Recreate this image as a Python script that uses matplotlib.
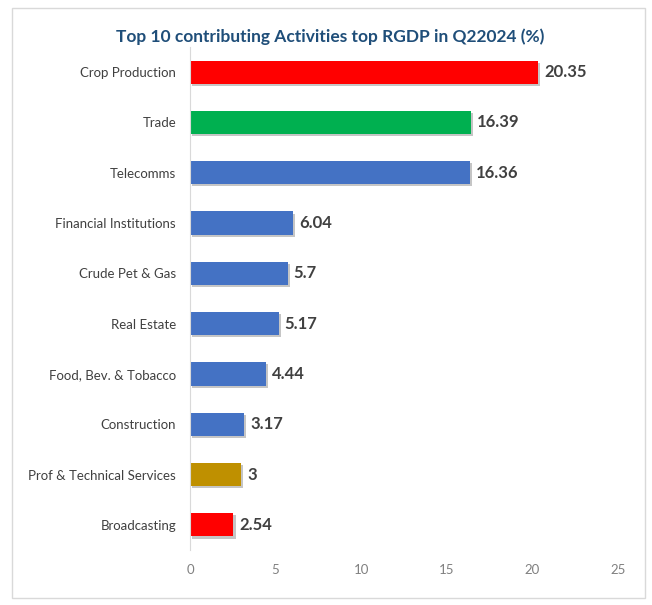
import matplotlib
matplotlib.use("Agg")
import matplotlib.pyplot as plt
import matplotlib.patheffects as pe
from matplotlib.patches import Rectangle

plt.rcParams['font.family'] = ['Lato', 'DejaVu Sans']

# activity shares of real GDP, top to bottom
activities = ["Crop Production", "Trade", "Telecomms", "Financial Institutions",
              "Crude Pet & Gas", "Real Estate", "Food, Bev. & Tobacco",
              "Construction", "Prof & Technical Services", "Broadcasting"]
shares = [20.35, 16.39, 16.36, 6.04, 5.7, 5.17, 4.44, 3.17, 3, 2.54]
value_labels = ["20.35", "16.39", "16.36", "6.04", "5.7", "5.17", "4.44", "3.17", "3", "2.54"]
bar_colors = ["#FF0000", "#00B050", "#4472C4", "#4472C4", "#4472C4", "#4472C4",
              "#4472C4", "#4472C4", "#BF9000", "#FF0000"]
x_ticks = [0, 5, 10, 15, 20, 25]

W, H = 652, 605
fig = plt.figure(figsize=(W / 100, H / 100), dpi=100)

# thin grey frame round the chart area
fig.patches.append(Rectangle((12 / W, 7 / H), 633 / W, 590 / H, transform=fig.transFigure,
                             fill=False, edgecolor="#D9D9D9", linewidth=1))

ax = fig.add_axes([190 / W, 1 - 550 / H, 428 / W, 503 / H])

ypos = list(range(len(activities)))
bars = ax.barh(ypos, shares, height=0.46, color=bar_colors)
for b in bars:
    b.set_path_effects([pe.SimplePatchShadow(offset=(1.5, -1.5), shadow_rgbFace="#808080", alpha=0.45),
                        pe.Normal()])

for y, v, lab in zip(ypos, shares, value_labels):
    ax.text(v + 0.35, y, lab, va="center", ha="left", fontsize=12, fontweight="bold",
            color="#404040")

ax.set_xlim(0, 25)
ax.set_ylim(len(activities) - 0.5, -0.5)
ax.set_yticks(ypos)
ax.set_yticklabels(activities, fontsize=9.5, color="#404040")
ax.set_xticks(x_ticks)
ax.set_xticklabels([str(t) for t in x_ticks], fontsize=9.5, color="#808080")
ax.tick_params(axis="both", length=0)
ax.tick_params(axis="y", pad=10)
ax.tick_params(axis="x", pad=10)

for side in ["top", "right", "bottom"]:
    ax.spines[side].set_visible(False)
ax.spines["left"].set_color("#D9D9D9")

fig.text(330 / W, 1 - 37 / H, "Top 10 contributing Activities top RGDP in Q22024 (%)",
         ha="center", va="center", fontsize=12.5, fontweight="bold", color="#1F4E79")

fig.savefig("out.png", dpi=100)
